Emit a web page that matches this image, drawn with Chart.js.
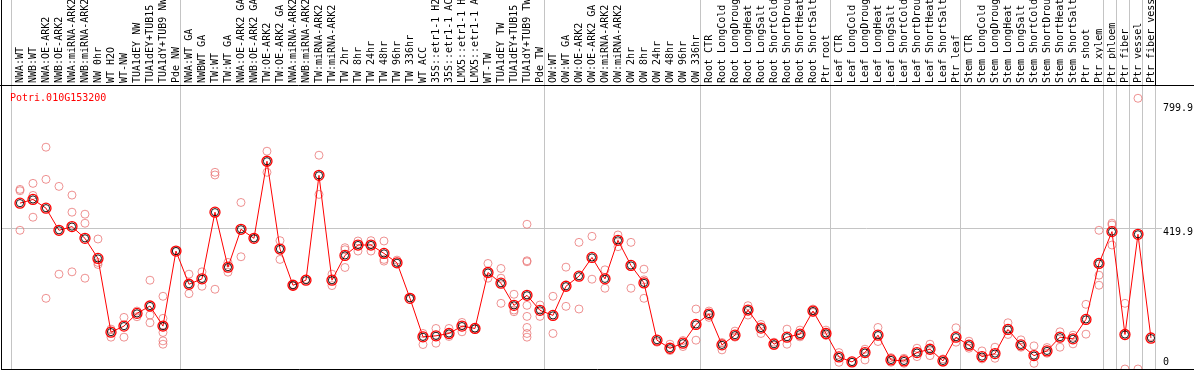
<!DOCTYPE html>
<html>
<head>
<meta charset="utf-8">
<script src="https://cdn.jsdelivr.net/npm/chart.js@4.4.0/dist/chart.umd.min.js"></script>
<style>
  html, body { margin: 0; padding: 0; background: #fff; }
  #wrap { width: 1194px; height: 370px; }
</style>
</head>
<body>
<div id="wrap"><canvas id="exprChart"></canvas></div>
<script>
const geneId = 'Potri.010G153200';

const samples = [
  'NWA:WT', 'NWB:WT', 'NWA:OE-ARK2', 'NWB:OE-ARK2', 'NWA:miRNA-ARK2', 'NWB:miRNA-ARK2',
  'NW 0hr', 'WT H2O', 'WT-NW', 'TUA1dEY NW', 'TUA1dEY+TUB15 NW', 'TUA1dY+TUB9 NW', 'Pde NW',
  'NWA:WT GA', 'NWBWT GA', 'TW:WT', 'TW:WT GA', 'NWA:OE-ARK2 GA', 'NWB:OE-ARK2 GA',
  'TW:OE-ARK2', 'TW:OE-ARK2 GA', 'NWA:miRNA-ARK2 GA', 'NWB:miRNA-ARK2 GA', 'TW:miRNA-ARK2',
  'TW:miRNA-ARK2 GA', 'TW 2hr', 'TW 8hr', 'TW 24hr', 'TW 48hr', 'TW 96hr', 'TW 336hr', 'WT ACC',
  '35S::etr1-1 H2O', '35S::etr1-1 ACC', 'LMX5::etr1-1 H2O', 'LMX5::etr1-1 ACC', 'WT-TW',
  'TUA1dEY TW', 'TUA1dEY+TUB15 TW', 'TUA1dY+TUB9 TW', 'Pde TW',
  'OW:WT', 'OW:WT GA', 'OW:OE-ARK2', 'OW:OE-ARK2 GA', 'OW:miRNA-ARK2', 'OW:miRNA-ARK2 GA',
  'OW 2hr', 'OW 8hr', 'OW 24hr', 'OW 48hr', 'OW 96hr', 'OW 336hr',
  'Root CTR', 'Root LongCold', 'Root LongDrought', 'Root LongHeat', 'Root LongSalt',
  'Root ShortCold', 'Root ShortDrought', 'Root ShortHeat', 'Root ShortSalt', 'Ptr root',
  'Leaf CTR', 'Leaf LongCold', 'Leaf LongDrought', 'Leaf LongHeat', 'Leaf LongSalt',
  'Leaf ShortCold', 'Leaf ShortDrought', 'Leaf ShortHeat', 'Leaf ShortSalt', 'Ptr leaf',
  'Stem CTR', 'Stem LongCold', 'Stem LongDrought', 'Stem LongHeat', 'Stem LongSalt',
  'Stem ShortCold', 'Stem ShortDrought', 'Stem ShortHeat', 'Stem ShortSalt', 'Ptr shoot',
  'Ptr xylem', 'Ptr phloem', 'Ptr fiber', 'Ptr vessel', 'Ptr fiber vessel'
];

// mean expression per sample (the red line)
const means = [
  495, 506, 480, 414, 425, 390, 330, 110, 128, 166, 188, 128, 352,
  253, 269, 468, 304, 417, 390, 620, 358, 250, 265, 578, 265, 339, 370, 370, 345, 317,
  211, 96, 99, 106, 128, 121, 288, 256, 190, 220, 175,
  160, 247, 277, 333, 269, 384, 309, 257, 86, 62, 77, 133,
  164, 72, 101, 176, 122, 74, 95, 104, 173, 106,
  36, 21, 49, 101, 27, 24, 49, 59, 24, 95,
  71, 37, 46, 118, 72, 40, 54, 95, 90, 148, 315,
  410, 103, 402, 92
];

// individual replicates per sample
const replicates = [
  [536, 532, 414], [554, 518, 453], [662, 566, 211], [545, 283], [519, 468, 290],
  [462, 435, 271], [388, 318, 312], [119, 95], [154, 95], [173, 156], [265, 161, 138],
  [217, 151, 127, 109, 84, 74], [352],
  [283, 225], [290, 247], [587, 579, 238], [318, 289], [497, 335], [390], [650, 587],
  [383, 327], [252, 248], [268], [638, 521], [283, 249], [362, 356, 303], [382, 352],
  [383, 352], [382, 327, 322], [325], [213], [106, 73], [121, 77], [121, 97], [139, 111],
  [121], [315, 271], [300, 271, 196], [223, 176, 171], [432, 323, 320, 190, 157, 124, 106, 95],
  [191, 157],
  [217, 106], [304, 187], [378, 179], [396, 268], [296, 241], [400, 365], [378, 241],
  [298, 266, 211], [80], [74, 55], [85, 67], [179, 86],
  [173, 154], [79, 57], [113, 95], [189, 161], [133, 106], [80, 70], [119, 74], [116, 96],
  [179, 169], [116, 100],
  [49, 20], [21], [59, 27], [124, 82], [34, 20], [32, 17], [62, 37], [74, 40], [30, 20],
  [123, 80],
  [83, 62], [54, 30], [65, 32], [138, 103], [87, 65], [69, 17], [64, 47], [111, 65],
  [101, 75], [193, 104], [414, 280, 250],
  [435, 430, 370], [196, 0], [808, 0], [97]
];

// first sample index of each experiment block (last entry closes the final block)
const groupStarts = [0, 13, 41, 53, 63, 73, 84, 85, 86, 87, 88];
const yTicks = [0, 419.9, 799.9];

const monoFont = '"DejaVu Sans Mono", "Liberation Mono", monospace';

const meanPoints = means.map((v, i) => ({x: i, y: v}));
const repPoints = [];
replicates.forEach((reps, i) => reps.forEach(v => repPoints.push({x: i, y: v})));

const xMin = -1.46;
const xMax = 87.31;
const yMax = 847.6;

const framePlugin = {
  id: 'frame',
  beforeDatasetsDraw(chart) {
    const {ctx, chartArea, scales} = chart;
    const x = scales.x;
    ctx.save();
    ctx.strokeStyle = '#c4c4c4';
    ctx.lineWidth = 1;
    groupStarts.forEach(k => {
      const px = Math.round(x.getPixelForValue(k - 0.67)) + 0.5;
      ctx.beginPath();
      ctx.moveTo(px, 0);
      ctx.lineTo(px, chartArea.bottom);
      ctx.stroke();
    });
    ctx.restore();
  },
  afterDraw(chart) {
    const {ctx, chartArea, width} = chart;
    ctx.save();
    ctx.strokeStyle = '#000';
    ctx.lineWidth = 1;
    ctx.beginPath();
    ctx.moveTo(chartArea.left + 0.5, 0);
    ctx.lineTo(chartArea.left + 0.5, chartArea.bottom + 1);
    ctx.moveTo(0, chartArea.top + 0.5);
    ctx.lineTo(width, chartArea.top + 0.5);
    ctx.moveTo(chartArea.left, chartArea.bottom + 0.5);
    ctx.lineTo(width, chartArea.bottom + 0.5);
    ctx.moveTo(chartArea.right + 0.5, 0);
    ctx.lineTo(chartArea.right + 0.5, chartArea.top);
    ctx.stroke();

    ctx.fillStyle = '#ff0000';
    ctx.font = '10px ' + monoFont;
    ctx.textBaseline = 'alphabetic';
    ctx.fillText(geneId, chartArea.left + 9, chartArea.top + 16);
    ctx.restore();
  }
};

new Chart(document.getElementById('exprChart').getContext('2d'), {
  type: 'line',
  data: {
    datasets: [
      {
        type: 'scatter',
        data: repPoints,
        showLine: false,
        pointRadius: 4,
        pointBorderWidth: 1,
        pointBorderColor: 'rgba(232, 110, 110, 0.75)',
        pointBackgroundColor: 'rgba(0,0,0,0)',
        order: 3
      },
      {
        data: meanPoints,
        borderColor: '#ff0000',
        borderWidth: 1,
        tension: 0,
        pointRadius: 5,
        pointBorderWidth: 1.3,
        pointBorderColor: '#ff0000',
        pointBackgroundColor: 'rgba(0,0,0,0)',
        order: 2
      },
      {
        type: 'scatter',
        data: meanPoints,
        showLine: false,
        pointRadius: 3.6,
        pointBorderWidth: 0.9,
        pointBorderColor: '#000',
        pointBackgroundColor: 'rgba(0,0,0,0)',
        order: 1
      }
    ]
  },
  options: {
    animation: false,
    responsive: true,
    maintainAspectRatio: false,
    layout: {
      autoPadding: false,
      padding: {left: 1, right: 0, top: 0, bottom: 1}
    },
    plugins: {
      legend: {display: false},
      tooltip: {enabled: false},
      title: {display: false}
    },
    scales: {
      x: {
        type: 'linear',
        position: 'bottom',
        min: xMin,
        max: xMax,
        grid: {display: false, drawTicks: false},
        border: {display: false},
        ticks: {display: false}
      },
      xTop: {
        type: 'linear',
        position: 'top',
        min: xMin,
        max: xMax,
        grid: {display: false, drawTicks: false},
        border: {display: false},
        afterBuildTicks: scale => {
          scale.ticks = samples.map((s, i) => ({value: i}));
        },
        afterFit: scale => {
          scale.height = 85;
          scale.paddingLeft = 0;
          scale.paddingRight = 0;
        },
        ticks: {
          autoSkip: false,
          minRotation: 90,
          maxRotation: 90,
          padding: 2,
          labelOffset: 12,
          color: '#000',
          font: {family: monoFont, size: 10},
          callback: value => samples[value]
        }
      },
      y: {
        type: 'linear',
        position: 'right',
        min: 0,
        max: yMax,
        afterBuildTicks: scale => {
          scale.ticks = yTicks.map(v => ({value: v}));
        },
        afterFit: scale => {
          scale.width = 39;
          scale.paddingTop = 0;
          scale.paddingBottom = 0;
        },
        border: {display: false},
        grid: {
          color: c => (c.tick && c.tick.value === 419.9) ? '#c4c4c4' : 'rgba(0,0,0,0)',
          lineWidth: 1,
          tickLength: 7
        },
        ticks: {
          padding: 1,
          color: '#000',
          font: c => ({
            family: monoFont,
            size: 10,
            lineHeight: (c.tick && c.tick.value === 419.9) ? 0.75 : 1.4
          }),
          callback: value => value === 0 ? ['0', ''] : ['', value.toFixed(1)]
        }
      }
    }
  },
  plugins: [framePlugin]
});
</script>
</body>
</html>
